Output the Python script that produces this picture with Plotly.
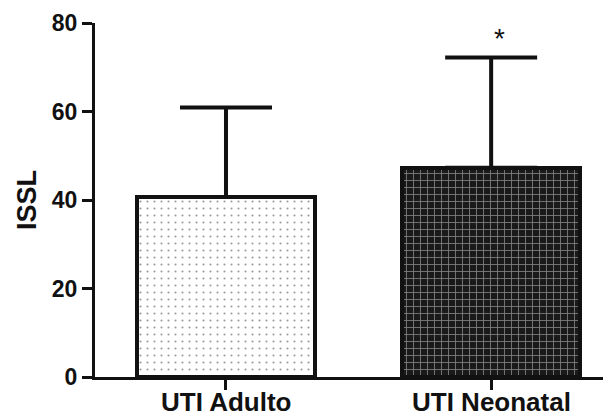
import plotly.graph_objects as go

categories = ["UTI Adulto", "UTI Neonatal"]
means = [40.7, 47.3]
errors_up = [20.2, 24.9]
y_ticks = [0, 20, 40, 60, 80]

fig = go.Figure()

fig.add_trace(go.Bar(
    x=[0], y=[means[0]], width=0.67,
    marker=dict(color="white", line=dict(color="#111", width=4),
                pattern=dict(shape=".", fgcolor="#333", bgcolor="white", size=7, solidity=0.07)),
    error_y=dict(type="data", symmetric=False, array=[errors_up[0]], arrayminus=[0],
                 color="#111", thickness=4, width=46),
    showlegend=False,
))
fig.add_trace(go.Bar(
    x=[1], y=[means[1]], width=0.67,
    marker=dict(color="#1a1a1a", line=dict(color="#111", width=4),
                pattern=dict(shape="+", fgcolor="#f0f0f0", bgcolor="#1a1a1a", size=7, solidity=0.22)),
    error_y=dict(type="data", symmetric=False, array=[errors_up[1]], arrayminus=[0],
                 color="#111", thickness=4, width=46),
    showlegend=False,
))

fig.add_annotation(x=1.03, y=76.5, text="*", showarrow=False,
                   font=dict(size=28, color="#111", family="Liberation Sans"))

# category labels placed just under the axis
for i, c in enumerate(categories):
    fig.add_annotation(x=i, xref="x", y=0, yref="paper", yanchor="top", yshift=-8,
                       text="<b>" + c + "</b>", showarrow=False,
                       font=dict(size=26, color="#111", family="Liberation Sans"))

fig.update_layout(
    width=603, height=407,
    margin=dict(l=87, r=0, t=15, b=38),
    plot_bgcolor="white", paper_bgcolor="white",
    font=dict(family="Liberation Sans", color="#111"),
    bargap=0,
)
fig.update_xaxes(
    range=[-0.494, 1.452], tickmode="array", tickvals=[0, 1],
    showticklabels=False,
    showline=True, linecolor="#111", linewidth=3,
    ticks="outside", ticklen=10, tickwidth=3, tickcolor="#111",
    showgrid=False, zeroline=False, automargin=False,
)
fig.update_yaxes(
    range=[0, 80], tickmode="array", tickvals=y_ticks,
    ticktext=["<b>%d</b>" % t for t in y_ticks],
    tickfont=dict(size=23, family="Liberation Sans", color="#111"),
    showline=True, linecolor="#111", linewidth=3,
    ticks="outside", ticklen=10, tickwidth=3, tickcolor="#111",
    showgrid=False, zeroline=False, automargin=False,
    title=dict(text="<b>ISSL</b>", font=dict(size=27, family="Liberation Sans", color="#111"), standoff=8),
)

fig.write_html("out.html")
